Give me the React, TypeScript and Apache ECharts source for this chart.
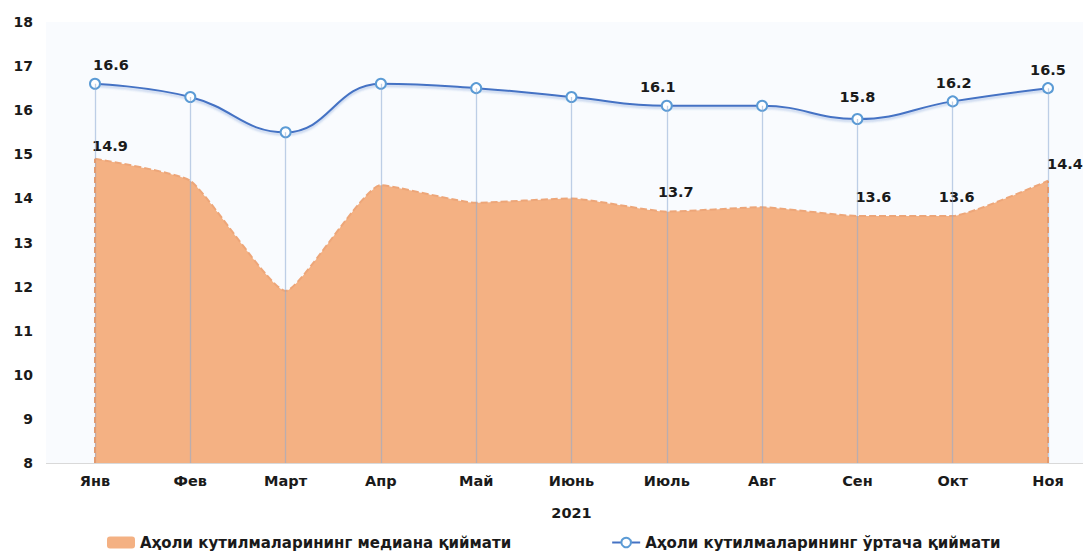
import React, { useEffect, useRef } from "react";
import * as echarts from "echarts";

const categories = ["Янв", "Фев", "Март", "Апр", "Май", "Июнь", "Июль", "Авг", "Сен", "Окт", "Ноя"];
const yearLabel = "2021";
const medianValues = [14.9, 14.4, 11.9, 14.3, 13.9, 14.0, 13.7, 13.8, 13.6, 13.6, 14.4];
const meanValues = [16.6, 16.3, 15.5, 16.6, 16.5, 16.3, 16.1, 16.1, 15.8, 16.2, 16.5];
const medianName = "Аҳоли кутилмаларининг медиана қиймати";
const meanName = "Аҳоли кутилмаларининг ўртача қиймати";
const medianLabelled = [0, 6, 8, 9, 10];
const meanLabelled = [0, 6, 8, 9, 10];
const yMin = 8;
const yMax = 18;

const FONT = "'DejaVu Sans', Arial, sans-serif";
const TXT = "#1a1a1a";

const medianOffsets: Record<number, number[]> = { 0: [15, 0], 6: [9, -7], 8: [16, -6], 9: [4, -6], 10: [17, -4] };
const meanOffsets: Record<number, number[]> = { 0: [16, 0], 6: [-9, 0], 8: [0, -4], 9: [1, 0], 10: [0, 0] };

export default function App() {
  const ref = useRef<HTMLDivElement>(null);
  useEffect(() => {
    if (!ref.current) return;
    const chart = echarts.init(ref.current, null, { renderer: "svg" });
    const labelBase = { show: true, position: "top", fontFamily: FONT, fontWeight: "bold", fontSize: 14.5, color: TXT, formatter: (p: any) => p.value.toFixed(1) };
    const medianData = medianValues.map((v, i) => ({
      value: v,
      label: medianLabelled.includes(i) ? { ...labelBase, offset: medianOffsets[i] } : { show: false },
    }));
    const meanData = meanValues.map((v, i) => ({
      value: v,
      label: meanLabelled.includes(i) ? { ...labelBase, offset: meanOffsets[i] } : { show: false },
    }));
    const dropLines = meanValues.map((v, i) => [{ coord: [i, v] }, { coord: [i, yMin] }]);
    const last = medianValues.length - 1;
    chart.setOption({
      animation: false,
      textStyle: { fontFamily: FONT },
      grid: { left: 95, right: 38, top: 22, bottom: 95, containLabel: false },
      graphic: [
        { type: "rect", z: -10, silent: true, shape: { x: 46, y: 22, width: 1037, height: 441 }, style: { fill: "#F9FBFE" } },
        { type: "line", z: -9, silent: true, shape: { x1: 46, y1: 463.5, x2: 1083, y2: 463.5 }, style: { stroke: "#D9D9D9", lineWidth: 1 } },
      ],
      legend: {
        left: 107,
        top: 535,
        padding: 0,
        itemGap: 100,
        itemWidth: 28,
        itemHeight: 12,
        textStyle: { fontFamily: FONT, fontWeight: "bold", fontSize: 15, color: TXT },
        data: [{ name: medianName, icon: "roundRect" }, { name: meanName }],
      },
      xAxis: {
        type: "category",
        data: categories,
        boundaryGap: false,
        axisLine: { show: false },
        axisTick: { show: false },
        axisLabel: { fontFamily: FONT, fontWeight: "bold", fontSize: 14.5, color: TXT, margin: 10 },
        name: yearLabel,
        nameLocation: "middle",
        nameGap: 42,
        nameTextStyle: { fontFamily: FONT, fontWeight: "bold", fontSize: 14.5, color: TXT },
        splitLine: { show: false },
      },
      yAxis: {
        type: "value",
        min: yMin,
        max: yMax,
        interval: 1,
        axisLine: { show: false },
        axisTick: { show: false },
        splitLine: { show: false },
        axisLabel: { fontFamily: FONT, fontWeight: "bold", fontSize: 14, color: TXT, margin: 62 },
      },
      series: [
        {
          name: medianName,
          type: "line",
          data: medianData,
          smooth: 0.15,
          showSymbol: true,
          symbol: "circle",
          symbolSize: 0.1,
          itemStyle: { color: "#F4B183" },
          lineStyle: { color: "#EDA679", width: 2, type: [7, 3] },
          areaStyle: { color: "#F4B183", opacity: 1 },
          z: 2,
          markLine: {
            silent: true,
            symbol: "none",
            label: { show: false },
            data: [
              ...dropLines.map((d) => [
                { ...d[0], lineStyle: { color: "rgba(140,170,210,0.55)", width: 1.3, type: "solid" } },
                d[1],
              ]),
              [
                { coord: [0, yMin], lineStyle: { color: "#E39A6E", width: 2, type: [6, 4] } },
                { coord: [0, medianValues[0]] },
              ],
              [
                { coord: [last, yMin], lineStyle: { color: "#E39A6E", width: 2, type: [6, 4] } },
                { coord: [last, medianValues[last]] },
              ],
            ],
          },
        },
        {
          name: meanName,
          type: "line",
          data: meanData,
          smooth: 0.45,
          symbol: "circle",
          symbolSize: 10,
          itemStyle: { color: "#FFFFFF", borderColor: "#5B9BD5", borderWidth: 2 },
          lineStyle: { color: "#4472C4", width: 2, shadowColor: "rgba(68,114,196,0.35)", shadowBlur: 2, shadowOffsetY: 2 },
          z: 3,
        },
      ],
    });
    return () => chart.dispose();
  }, []);
  return <div ref={ref} style={{ width: 1086, height: 558, position: "absolute", left: 0, top: 0 }} />;
}
